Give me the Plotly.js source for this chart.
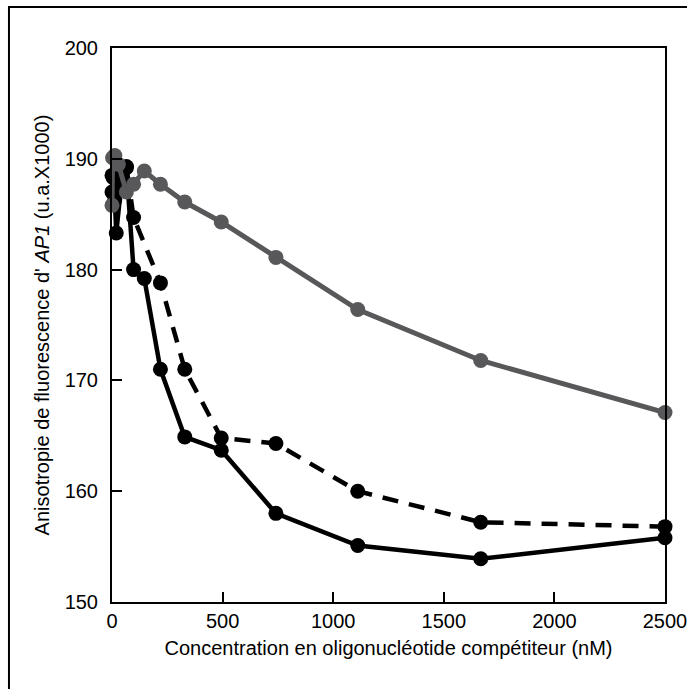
<!DOCTYPE html>
<html>
<head>
<meta charset="utf-8">
<script src="https://cdn.plot.ly/plotly-3.0.1.min.js"></script>
<style>
html,body{margin:0;padding:0;background:#fff;}
#chart{width:687px;height:689px;}
</style>
</head>
<body>
<div id="chart"></div>
<script>
// Competitor oligonucleotide concentration (nM) and anisotropy (a.u. x1000)
const solidX = [0, 5.7, 12.8, 19.3, 43.4, 65, 97.5, 146, 219, 329, 494, 741, 1111, 1667, 2500];
const solidY = [187.0, 188.3, 186.3, 183.3, 188.0, 189.2, 180.0, 179.2, 171.0, 164.9, 163.7, 158.0, 155.1, 153.9, 155.8];

const dashedX = [0, 8.6, 28.9, 65, 97.5, 219, 329, 494, 741, 1111, 1667, 2500];
const dashedY = [188.5, 187.0, 189.0, 189.3, 184.7, 178.8, 171.0, 164.8, 164.3, 160.0, 157.2, 156.8];

const grayX = [0, 2.5, 12.8, 28.9, 65, 97.5, 146, 219, 329, 494, 741, 1111, 1667, 2500];
const grayY = [185.8, 190.1, 190.3, 189.5, 187.0, 187.7, 188.9, 187.7, 186.1, 184.3, 181.1, 176.4, 171.8, 167.1];

const xTicks = [0, 500, 1000, 1500, 2000, 2500];
const yTicks = [150, 160, 170, 180, 190, 200];

const FONT = '"Liberation Sans Narrow", "Liberation Sans", Arial, sans-serif';

const traces = [
  {x: solidX, y: solidY, mode: 'lines+markers', type: 'scatter', cliponaxis: false,
   line: {color: '#000000', width: 4.5}, marker: {color: '#000000', size: 15}},
  {x: dashedX, y: dashedY, mode: 'lines+markers', type: 'scatter', cliponaxis: false,
   line: {color: '#000000', width: 4.5, dash: '16px,11px'}, marker: {color: '#000000', size: 15}},
  {x: grayX, y: grayY, mode: 'lines+markers', type: 'scatter', cliponaxis: false,
   line: {color: '#58585a', width: 5}, marker: {color: '#58585a', size: 15}}
];

const layout = {
  width: 687, height: 689,
  margin: {l: 112, r: 22, t: 48, b: 87},
  paper_bgcolor: '#ffffff', plot_bgcolor: '#ffffff',
  showlegend: false,
  font: {family: FONT, size: 19, color: '#000'},
  xaxis: {
    range: [0, 2500], tickvals: xTicks, ticktext: xTicks.map(String),
    ticks: 'inside', ticklen: 10, tickwidth: 2, tickcolor: '#000',
    showline: true, linecolor: '#000', linewidth: 2, mirror: true,
    showgrid: false, zeroline: false, ticklabeloverflow: 'allow',
    tickfont: {family: FONT, size: 20},
    title: {text: 'Concentration en oligonucléotide compétiteur (nM)', font: {family: FONT, size: 20}, standoff: 10}
  },
  yaxis: {
    range: [150, 200], tickvals: yTicks, ticktext: yTicks.map(String),
    ticks: 'inside', ticklen: 10, tickwidth: 2, tickcolor: '#000',
    showline: true, linecolor: '#000', linewidth: 2, mirror: true,
    showgrid: false, zeroline: false, ticklabeloverflow: 'allow',
    ticklabelstandoff: 8,
    tickfont: {family: FONT, size: 20},
    title: {text: "Anisotropie de fluorescence d' <i>AP1</i> (u.a.X1000)", font: {family: FONT, size: 20}, standoff: 10}
  },
  shapes: [
    {type: 'rect', xref: 'paper', yref: 'paper', x0: -0.1863, x1: 1.06, y0: -0.18, y1: 1.074,
     line: {color: '#000', width: 2}, fillcolor: 'rgba(0,0,0,0)', layer: 'above'}
  ]
};

Plotly.newPlot('chart', traces, layout, {displayModeBar: false, staticPlot: true});
</script>
</body>
</html>
